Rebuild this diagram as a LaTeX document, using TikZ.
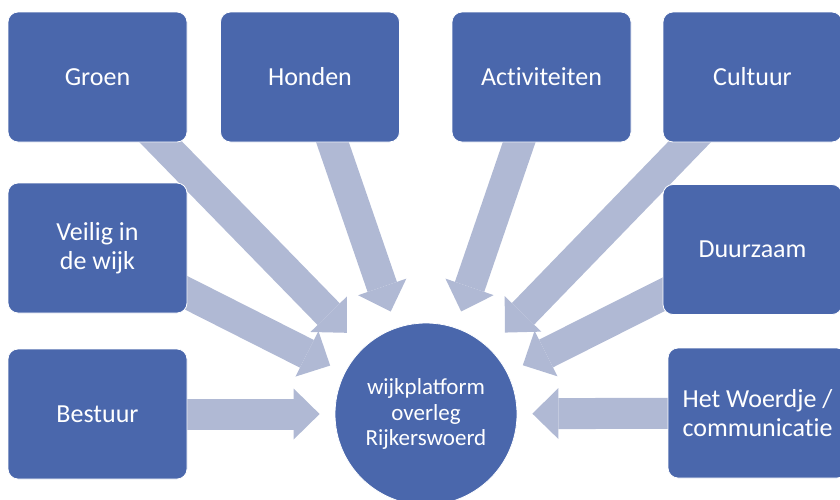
\documentclass[tikz,border=0pt]{standalone}
\usepackage{fontspec}
\setmainfont{Carlito}
\usetikzlibrary{arrows.meta,backgrounds}
\definecolor{topicblue}{RGB}{74,103,172}
\definecolor{linkgray}{RGB}{176,185,212}
\begin{document}
\begin{tikzpicture}[x=10pt,y=10pt]
			\tikzstyle{every node}+=[inner sep=0pt]
			\tikzstyle{topic}=[rectangle, rounded corners=10pt, draw=white, line width=0.8pt, fill=topicblue, text=white, minimum width=179pt, minimum height=130pt, align=center, font=\fontsize{26}{29}\selectfont]
			\tikzstyle{hubnode}=[circle, draw=white, line width=0.8pt, fill=topicblue, text=white, minimum size=182pt, align=center, font=\fontsize{23}{25.5}\selectfont]
			\tikzstyle{link}=[linkgray, line width=31pt, -{Triangle[length=26pt 0 0, width=51pt 0 0, line width=0pt 0 0]}, shorten >=16pt]
			\useasboundingbox (0,0) rectangle (84,-49.9);
			\node [topic] (groen) at (9.75,-7.7) {Groen};
			\node [topic] (honden) at (31,-7.7) {Honden};
			\node [topic] (activiteiten) at (54.15,-7.7) {Act\kern0pt iviteiten};
			\node [topic] (cultuur) at (75.25,-7.7) {Cultuur};
			\node [topic] (veilig) at (9.75,-24.8) {Veilig in\\de wijk};
			\node [topic] (duurzaam) at (75.25,-24.95) {Duurzaam};
			\node [topic] (bestuur) at (9.75,-41.4) {Bestuur};
			\node [topic] (woerdje) at (75.75,-41.3) {Het Woerdje /\\communicat\kern0pt ie};
			\node [hubnode] (hub) at (42.6,-41.4) {wijkplatform\\overleg\\Rijkerswoerd};
			\begin{pgfonlayer}{background}
				\draw [link, shorten >=22pt] (groen.center) -- (hub);
				\draw [link, shorten >=17pt] (honden.center) -- (hub);
				\draw [link, shorten >=17pt] (activiteiten.center) -- (hub);
				\draw [link, shorten >=22pt] (cultuur.center) -- (hub);
				\draw [link] (veilig.center) -- (hub);
				\draw [link, shorten >=17pt] (duurzaam.center) -- (hub);
				\draw [link, shorten >=15pt] (bestuur.center) -- (hub);
				\draw [link, shorten >=15pt] (woerdje.center) -- (hub);
			\end{pgfonlayer}
		\end{tikzpicture}
\end{document}
